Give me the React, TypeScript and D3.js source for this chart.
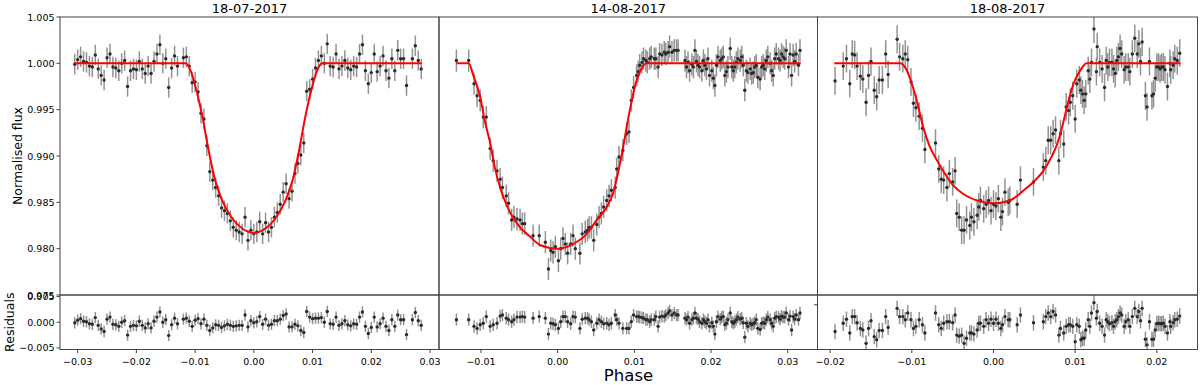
import React from 'react';
import * as d3 from 'd3';

// 18-07-2017
const phase0718 = [
  -0.0305, -0.0300, -0.0295, -0.0290, -0.0285, -0.0280, -0.0275, -0.0270, -0.0265, -0.0260,
  -0.0255, -0.0250, -0.0245, -0.0240, -0.0235, -0.0230, -0.0225, -0.0220, -0.0215, -0.0210,
  -0.0205, -0.0200, -0.0195, -0.0190, -0.0185, -0.0180, -0.0175, -0.0170, -0.0165, -0.0160,
  -0.0155, -0.0150, -0.0145, -0.0140, -0.0135, -0.0130, -0.0120,
  -0.0115, -0.0110, -0.0105, -0.0100, -0.0095, -0.0090, -0.0085, -0.0080, -0.0075, -0.0070,
  -0.0065, -0.0060, -0.0055, -0.0050, -0.0045, -0.0040, -0.0035, -0.0030, -0.0025, -0.0020,
  -0.0015, -0.0010, -0.0005, 0.0000, 0.0005, 0.0010, 0.0015, 0.0020, 0.0025, 0.0030,
  0.0035, 0.0040, 0.0045, 0.0050, 0.0055, 0.0060, 0.0065, 0.0070, 0.0075, 0.0080,
  0.0085, 0.0090, 0.0095, 0.0100, 0.0105, 0.0110, 0.0115,
  0.0120, 0.0125, 0.0130, 0.0135, 0.0140, 0.0145, 0.0150, 0.0155, 0.0160, 0.0165,
  0.0170, 0.0175, 0.0180, 0.0185, 0.0190, 0.0195, 0.0200, 0.0205, 0.0210, 0.0215,
  0.0220, 0.0225, 0.0230, 0.0235, 0.0240, 0.0245, 0.0250, 0.0255, 0.0260,
  0.0270, 0.0275, 0.0280, 0.0285,
];
const flux0718 = [
  0.9999, 1.0004, 1.0007, 1.0002, 1.0001, 0.9997, 0.9996, 1.0009, 0.9994, 0.9987,
  0.9982, 1.0006, 1.0010, 0.9996, 0.9995, 0.9992, 1.0000, 1.0003, 0.9975, 0.9992,
  0.9994, 0.9993, 1.0002, 0.9994, 0.9989, 0.9997, 0.9989, 1.0002, 1.0010, 1.0020,
  1.0000, 1.0005, 0.9974, 0.9995, 1.0008, 0.9997, 1.0006,
  1.0007, 0.9997, 0.9979, 0.9980, 0.9969, 0.9946, 0.9940, 0.9911, 0.9883, 0.9874,
  0.9866, 0.9857, 0.9844, 0.9841, 0.9838, 0.9830, 0.9823, 0.9820, 0.9818, 0.9816,
  0.9834, 0.9809, 0.9820, 0.9816, 0.9818, 0.9829, 0.9816, 0.9828, 0.9818, 0.9823,
  0.9834, 0.9839, 0.9848, 0.9861, 0.9870, 0.9854, 0.9862, 0.9881, 0.9892, 0.9901,
  0.9914, 0.9970, 0.9972, 0.9983, 0.9995, 1.0003, 1.0008,
  1.0000, 1.0021, 0.9997, 0.9996, 1.0010, 0.9994, 0.9997, 1.0003, 0.9995, 0.9993,
  0.9997, 0.9996, 1.0010, 1.0020, 0.9992, 0.9978, 0.9990, 1.0010, 0.9991, 0.9997,
  1.0008, 0.9992, 0.9984, 1.0005, 0.9992, 1.0014, 1.0005, 1.0005, 0.9976,
  1.0005, 1.0019, 1.0003, 0.9994,
];
const resid0718 = [
  -0.0001, 0.0004, 0.0007, 0.0002, 0.0001, -0.0003, -0.0004, 0.0009, -0.0006, -0.0013,
  -0.0018, 0.0006, 0.0010, -0.0004, -0.0005, -0.0008, 0.0000, 0.0003, -0.0025, -0.0008,
  -0.0006, -0.0007, 0.0002, -0.0006, -0.0011, -0.0003, -0.0011, 0.0002, 0.0010, 0.0020,
  0.0000, 0.0005, -0.0026, -0.0005, 0.0008, -0.0003, 0.0006,
  0.0008, 0.0002, -0.0008, 0.0004, 0.0007, -0.0003, 0.0006, -0.0006, -0.0016, -0.0011,
  -0.0005, -0.0006, -0.0010, -0.0007, -0.0004, -0.0006, -0.0008, -0.0007, -0.0006, -0.0006,
  0.0014, -0.0009, 0.0003, -0.0001, 0.0001, 0.0011, -0.0004, 0.0006, -0.0006, -0.0004,
  0.0003, 0.0003, 0.0006, 0.0013, 0.0016, -0.0009, -0.0009, -0.0004, -0.0007, -0.0016,
  -0.0020, 0.0021, 0.0010, 0.0007, 0.0008, 0.0008, 0.0009,
  0.0000, 0.0021, -0.0003, -0.0004, 0.0010, -0.0006, -0.0003, 0.0003, -0.0005, -0.0007,
  -0.0003, -0.0004, 0.0010, 0.0020, -0.0008, -0.0022, -0.0010, 0.0010, -0.0009, -0.0003,
  0.0008, -0.0008, -0.0016, 0.0005, -0.0008, 0.0014, 0.0005, 0.0005, -0.0024,
  0.0005, 0.0019, 0.0003, -0.0006,
];
const err0718 = 0.0011;
const modelPhase0718 = [
  -0.0305, -0.0116, -0.0107, -0.0099, -0.00875, -0.0077, -0.0066, -0.0054, -0.0036, -0.0019, 0,
  0.0019, 0.0036, 0.0054, 0.0066, 0.0077, 0.00875, 0.0099, 0.0107, 0.0116, 0.0286,
];
const modelFlux0718 = [
  1.0, 1.0, 0.9991, 0.9974, 0.9942, 0.9906, 0.9874, 0.9852, 0.9832, 0.98215, 0.9817,
  0.98215, 0.9832, 0.9852, 0.9874, 0.9906, 0.9942, 0.9974, 0.9991, 1.0, 1.0,
];
const xTicks0718 = [-0.03, -0.02, -0.01, 0, 0.01, 0.02, 0.03];

// 14-08-2017
const phase0814 = [
  -0.0132, -0.0116, -0.0109, -0.0105, -0.0101, -0.0097, -0.0093, -0.0088, -0.0084, -0.0079,
  -0.0075, -0.0072, -0.0067, -0.0064, -0.0060, -0.0057, -0.0053, -0.0049, -0.0046, -0.0043,
  -0.0032, -0.0024, -0.0016, -0.0012, -0.0009, -0.0006, -0.0003, 0.0001, 0.0004, 0.0007,
  0.0010, 0.0013, 0.0017, 0.0020, 0.0023, 0.0029, 0.0032, 0.0036, 0.0039, 0.0041,
  0.0044, 0.0047, 0.0051, 0.0054, 0.0057, 0.0060, 0.0064, 0.0067, 0.0070, 0.0075,
  0.0077, 0.0080, 0.0085, 0.0090, 0.0093, 0.0096, 0.0099, 0.0103, 0.0105, 0.0107,
  0.0110, 0.0112, 0.0115, 0.0117, 0.0120, 0.0122, 0.0126, 0.0128, 0.0131, 0.0133,
  0.0136, 0.0139, 0.0141, 0.0144, 0.0146, 0.0149, 0.0152, 0.0155, 0.0157,
  0.0166, 0.0168, 0.0170, 0.0172, 0.0175, 0.0177, 0.0179, 0.0181, 0.0183, 0.0185,
  0.0188, 0.0190, 0.0192, 0.0194, 0.0196, 0.0198, 0.0201, 0.0203, 0.0205, 0.0207,
  0.0209, 0.0212, 0.0214, 0.0216, 0.0218, 0.0220, 0.0222, 0.0225, 0.0227, 0.0229,
  0.0231, 0.0233, 0.0235, 0.0238, 0.0240, 0.0242, 0.0244, 0.0246, 0.0248, 0.0251,
  0.0253, 0.0255, 0.0257, 0.0259, 0.0261, 0.0264, 0.0266, 0.0268, 0.0270, 0.0272,
  0.0274, 0.0277, 0.0279, 0.0281, 0.0283, 0.0285, 0.0288, 0.0290, 0.0292, 0.0294,
  0.0296, 0.0298, 0.0301, 0.0303, 0.0305, 0.0307, 0.0309, 0.0311, 0.0314, 0.0316,
];
const flux0814 = [
  1.0003, 1.0003, 0.9978, 0.9965, 0.9960, 0.9942, 0.9942, 0.9908, 0.9895, 0.9884,
  0.9875, 0.9866, 0.9857, 0.9849, 0.9831, 0.9834, 0.9832, 0.9831, 0.9827, 0.9827,
  0.9814, 0.9814, 0.9807, 0.9778, 0.9798, 0.9796, 0.9802, 0.9787, 0.9800, 0.9811,
  0.9805, 0.9795, 0.9805, 0.9814, 0.9800, 0.9795, 0.9816, 0.9818, 0.9820, 0.9823,
  0.9823, 0.9809, 0.9826, 0.9834, 0.9838, 0.9845, 0.9852, 0.9857, 0.9863, 0.9866,
  0.9886, 0.9899, 0.9906, 0.9924, 0.9926, 0.9960, 0.9974, 0.9987, 0.9991, 0.9998,
  1.0001, 1.0005, 1.0003, 1.0001, 1.0005, 1.0007, 1.0005, 1.0005, 0.9996, 1.0010,
  1.0009, 1.0012, 1.0010, 1.0012, 1.0018, 1.0012, 1.0014, 1.0014, 1.0014,
  1.0003, 0.9996, 1.0001, 0.9992, 0.9999, 0.9996, 1.0014, 1.0002, 0.9998, 0.9996,
  0.9992, 1.0003, 0.9998, 0.9994, 1.0005, 0.9987, 0.9992, 0.9984, 0.9976, 0.9998,
  1.0007, 1.0003, 1.0005, 1.0007, 0.9987, 0.9991, 0.9996, 1.0016, 0.9996, 0.9992,
  0.9996, 1.0001, 1.0005, 1.0003, 1.0007, 0.9998, 0.9971, 0.9992, 0.9990, 0.9994,
  0.9989, 0.9990, 0.9996, 0.9998, 0.9985, 0.9983, 0.9996, 0.9998, 0.9994, 1.0003,
  1.0007, 1.0000, 0.9992, 0.9987, 1.0005, 1.0010, 1.0005, 1.0003, 1.0010, 1.0007,
  1.0005, 1.0014, 0.9996, 1.0010, 0.9987, 1.0009, 1.0002, 1.0010, 0.9998, 1.0014,
];
const resid0814 = [
  0.0005, 0.0005, -0.0008, -0.0012, -0.0005, -0.0002, 0.0011, -0.0008, -0.0005, -0.0002,
  0.0012, 0.0014, 0.0008, 0.0005, 0.0001, 0.0005, 0.0010, 0.0010, 0.0011, 0.0010,
  0.0008, 0.0011, 0.0008, -0.0023, -0.0002, -0.0003, -0.0005, -0.0012, 0.0001, 0.0011,
  0.0011, 0.0001, -0.0003, 0.0011, 0.0010, -0.0012, 0.0006, 0.0008, 0.0008, 0.0005,
  0.0001, -0.0015, -0.0002, 0.0005, 0.0001, -0.0003, -0.0002, -0.0005, -0.0002, 0.0014,
  0.0005, -0.0002, -0.0012, -0.0012, -0.0012, 0.0001, 0.0014, 0.0011, 0.0011, 0.0010,
  0.0009, 0.0008, 0.0005, 0.0005, 0.0001, 0.0005, 0.0005, 0.0011, -0.0008, 0.0010,
  0.0012, 0.0011, 0.0014, 0.0018, 0.0022, 0.0014, 0.0018, 0.0014, 0.0014,
  0.0008, 0.0005, 0.0010, -0.0002, 0.0005, 0.0008, 0.0018, 0.0008, 0.0006, 0.0001,
  -0.0002, 0.0005, 0.0001, -0.0002, 0.0005, -0.0008, -0.0001, -0.0008, -0.0023, 0.0001,
  0.0011, 0.0006, 0.0010, 0.0011, -0.0005, -0.0002, 0.0005, 0.0018, 0.0001, -0.0002,
  0.0001, 0.0005, 0.0010, 0.0006, 0.0008, -0.0001, -0.0029, -0.0002, -0.0008, -0.0002,
  -0.0005, -0.0003, -0.0001, 0.0005, -0.0012, -0.0014, -0.0002, -0.0001, -0.0002, 0.0005,
  0.0010, 0.0005, -0.0002, -0.0008, 0.0008, 0.0011, 0.0010, 0.0006, 0.0012, 0.0010,
  0.0010, 0.0018, 0.0005, 0.0012, -0.0015, 0.0011, 0.0006, 0.0014, 0.0005, 0.0018,
];
const err0814 = 0.0012;
const modelPhase0814 = [
  -0.0132, -0.0116, -0.0110, -0.0101, -0.0095, -0.0088, -0.0082, -0.0075, -0.0069, -0.0060,
  -0.0049, -0.0036, -0.0023, 0, 0.0020, 0.0038, 0.0051, 0.0064, 0.0072, 0.0083,
  0.0094, 0.0103, 0.0109, 0.0116, 0.0317,
];
const modelFlux0814 = [
  1.0, 1.0, 0.9987, 0.9964, 0.9938, 0.9914, 0.9888, 0.9866, 0.9852, 0.9836,
  0.9823, 0.9813, 0.9804, 0.9800, 0.9805, 0.9816, 0.9831, 0.9845, 0.9859, 0.9899,
  0.9949, 0.9982, 0.9994, 1.0, 1.0,
];
const xTicks0814 = [-0.01, 0, 0.01, 0.02, 0.03];

// 18-08-2017
const phase0818 = [
  -0.0194, -0.0184, -0.0180, -0.0176, -0.0173, -0.0170, -0.0167, -0.0163, -0.0160, -0.0156,
  -0.0153, -0.0150, -0.0146, -0.0143, -0.0140, -0.0136, -0.0132, -0.0129, -0.0118, -0.0115,
  -0.0111, -0.0108, -0.0105, -0.0101, -0.0098, -0.0095, -0.0091, -0.0087, -0.0084, -0.0071,
  -0.0067, -0.0064, -0.0061, -0.0057, -0.0054, -0.0050, -0.0047, -0.0045, -0.0042, -0.0039,
  -0.0036, -0.0033, -0.0029, -0.0027, -0.0024, -0.0020, -0.0018, -0.0016, -0.0012, -0.0009,
  -0.0006, -0.0003, 0.0000, 0.0003, 0.0006, 0.0009, 0.0011, 0.0014, 0.0018, 0.0020,
  0.0029, 0.0033, 0.0049, 0.0061, 0.0064, 0.0067, 0.0070, 0.0073, 0.0076, 0.0080,
  0.0082, 0.0086, 0.0089, 0.0092, 0.0094, 0.0097, 0.0100, 0.0102, 0.0105, 0.0107,
  0.0109, 0.0111, 0.0113, 0.0116, 0.0118, 0.0120, 0.0123, 0.0126, 0.0127, 0.0130,
  0.0133, 0.0136, 0.0138, 0.0140, 0.0142, 0.0145, 0.0147, 0.0149, 0.0151, 0.0153,
  0.0155, 0.0157, 0.0160, 0.0162, 0.0165, 0.0167, 0.0170, 0.0173, 0.0176, 0.0178,
  0.0180, 0.0182, 0.0186, 0.0188, 0.0191, 0.0194, 0.0196, 0.0198, 0.0200, 0.0202,
  0.0204, 0.0206, 0.0208, 0.0210, 0.0213, 0.0216, 0.0217, 0.0220, 0.0222, 0.0225,
  0.0228,
];
const flux0818 = [
  0.9981, 0.9997, 1.0005, 0.9978, 1.0010, 1.0009, 0.9997, 0.9986, 0.9983, 0.9958,
  0.9987, 1.0002, 0.9971, 0.9964, 0.9982, 0.9982, 1.0010, 0.9988, 1.0026, 1.0007,
  1.0005, 1.0010, 1.0004, 0.9980, 0.9957, 0.9952, 0.9943, 0.9930, 0.9907, 0.9914,
  0.9886, 0.9875, 0.9874, 0.9866, 0.9881, 0.9872, 0.9884, 0.9838, 0.9834, 0.9820,
  0.9820, 0.9831, 0.9825, 0.9834, 0.9829, 0.9836, 0.9845, 0.9852, 0.9843, 0.9848,
  0.9852, 0.9841, 0.9848, 0.9846, 0.9854, 0.9834, 0.9840, 0.9861, 0.9850, 0.9852,
  0.9848, 0.9874, 0.9872, 0.9888, 0.9895, 0.9917, 0.9917, 0.9924, 0.9928, 0.9895,
  0.9924, 0.9913, 0.9953, 0.9949, 0.9958, 0.9965, 0.9940, 0.9978, 0.9982, 0.9971,
  0.9967, 0.9960, 0.9967, 0.9992, 0.9983, 1.0001, 1.0037, 0.9991, 1.0018, 1.0001,
  0.9994, 0.9974, 1.0003, 0.9996, 1.0001, 1.0001, 0.9994, 0.9989, 1.0003, 1.0007,
  1.0016, 1.0010, 0.9993, 0.9996, 0.9996, 0.9991, 1.0010, 1.0027, 1.0010, 1.0021,
  1.0002, 1.0023, 0.9965, 0.9953, 1.0002, 0.9965, 0.9967, 0.9984, 0.9996, 0.9996,
  0.9994, 0.9996, 0.9996, 0.9993, 0.9975, 1.0000, 0.9993, 0.9998, 1.0005, 1.0003,
  1.0011,
];
const resid0818 = [
  -0.0018, -0.0002, 0.0006, -0.0021, 0.0011, 0.0011, -0.0001, -0.0012, -0.0015, -0.0041,
  -0.0012, 0.0003, -0.0028, -0.0034, -0.0016, -0.0016, 0.0011, -0.0010, 0.0027, 0.0011,
  0.0011, 0.0005, 0.0018, 0.0005, -0.0012, -0.0008, 0.0005, -0.0005, -0.0021, 0.0018,
  -0.0005, -0.0012, -0.0002, 0.0001, 0.0001, -0.0001, 0.0014, -0.0025, -0.0027, -0.0025,
  -0.0041, -0.0031, -0.0021, -0.0021, -0.0023, -0.0015, -0.0002, -0.0002, -0.0008, 0.0005,
  -0.0002, 0.0006, -0.0002, 0.0006, -0.0002, -0.0012, -0.0005, 0.0011, 0.0005, 0.0005,
  -0.0005, 0.0014, -0.0001, 0.0001, 0.0011, 0.0018, 0.0011, 0.0021, 0.0014, -0.0025,
  -0.0012, -0.0021, -0.0008, -0.0005, -0.0005, -0.0008, -0.0038, -0.0005, -0.0008, -0.0034,
  -0.0031, -0.0031, -0.0015, 0.0005, -0.0008, 0.0018, 0.0038, 0.0008, 0.0021, -0.0002,
  -0.0008, -0.0025, 0.0005, 0.0001, -0.0003, -0.0001, -0.0008, 0.0001, 0.0005, 0.0011,
  0.0018, 0.0014, -0.0008, 0.0001, 0.0005, -0.0008, 0.0011, 0.0027, 0.0011, 0.0021,
  0.0003, 0.0027, -0.0033, -0.0044, 0.0001, -0.0033, -0.0033, -0.0015, -0.0003, -0.0002,
  -0.0003, -0.0003, -0.0002, -0.0008, -0.0021, 0.0001, -0.0008, -0.0001, 0.0005, 0.0006,
  0.0012,
];
const err0818 = 0.0015;
const modelPhase0818 = [
  -0.0195, -0.0114, -0.0106, -0.0100, -0.0094, -0.0086, -0.0078, -0.0069, -0.0061, -0.0049,
  -0.0037, -0.0020, 0, 0.0020, 0.0037, 0.0049, 0.0061, 0.0071, 0.0078, 0.0084,
  0.0090, 0.0098, 0.0106, 0.0114, 0.0229,
];
const modelFlux0818 = [
  1.0, 1.0, 0.9992, 0.9978, 0.9960, 0.9931, 0.9910, 0.9895, 0.9883, 0.9868,
  0.9859, 0.9852, 0.9849, 0.9852, 0.9863, 0.9872, 0.9884, 0.9899, 0.9913, 0.9931,
  0.9953, 0.9978, 0.9992, 1.0, 1.0,
];
const xTicks0818 = [-0.02, -0.01, 0, 0.01, 0.02];

const fluxTicks = [1.005, 1.0, 0.995, 0.99, 0.985, 0.98, 0.975];
const residTicks = [0.005, 0, -0.005];
const titles = ['18-07-2017', '14-08-2017', '18-08-2017'];

const W = 1200;
const H = 385;
const TOP = 17;
const MID = 295;
const BOT = 349.5;
const FONT = "'DejaVu Sans', sans-serif";

const panels = [
  { phase: phase0718, flux: flux0718, resid: resid0718, err: err0718, mp: modelPhase0718, mf: modelFlux0718, ticks: xTicks0718, domain: [-0.03301, 0.03153], left: 60, right: 439 },
  { phase: phase0814, flux: flux0814, resid: resid0814, err: err0814, mp: modelPhase0814, mf: modelFlux0814, ticks: xTicks0814, domain: [-0.01547, 0.03388], left: 439, right: 817.5 },
  { phase: phase0818, flux: flux0818, resid: resid0818, err: err0818, mp: modelPhase0818, mf: modelFlux0818, ticks: xTicks0818, domain: [-0.02155, 0.02498], left: 817.5, right: 1197.5 },
];

const yMain = d3.scaleLinear().domain([0.975, 1.005]).range([MID, TOP]);
const yRes = d3.scaleLinear().domain([-0.0053, 0.0053]).range([BOT, MID]);
const fmtY = d3.format('.3f');
const fmtX = d3.format('.2f');

// error bars first, then the dots on top
const Points = ({ x, y, phase, vals, err, clip }) => (
  <g clipPath={`url(#${clip})`}>
    {phase.map((p, i) => (
      <line key={'e' + i} x1={x(p)} x2={x(p)} y1={y(vals[i] - err)} y2={y(vals[i] + err)}
        stroke="#808080" strokeOpacity={0.85} strokeWidth={1.5} />
    ))}
    {phase.map((p, i) => (
      <circle key={'d' + i} cx={x(p)} cy={y(vals[i])} r={1.7} fill="#2b2b2b" />
    ))}
  </g>
);

const App = () => {
  return (
    <svg width={W} height={H} style={{ position: 'absolute', left: 0, top: 0, fontFamily: FONT }}>
      <rect width={W} height={H} fill="#fff" />
      {panels.map((pn, k) => {
        const x = d3.scaleLinear().domain(pn.domain).range([pn.left, pn.right]);
        const model = d3.line<number>()
          .x((p) => x(p))
          .y((_, i) => yMain(pn.mf[i]))
          .curve(d3.curveMonotoneX);
        return (
          <g key={k}>
            <defs>
              <clipPath id={`main${k}`}>
                <rect x={pn.left} y={TOP} width={pn.right - pn.left} height={MID - TOP} />
              </clipPath>
              <clipPath id={`res${k}`}>
                <rect x={pn.left} y={MID} width={pn.right - pn.left} height={BOT - MID} />
              </clipPath>
            </defs>
            <Points x={x} y={yMain} phase={pn.phase} vals={pn.flux} err={pn.err} clip={`main${k}`} />
            <path d={model(pn.mp) || ''} fill="none" stroke="#ff0000" strokeWidth={2} clipPath={`url(#main${k})`} />
            <Points x={x} y={yRes} phase={pn.phase} vals={pn.resid} err={pn.err} clip={`res${k}`} />

            <rect x={pn.left} y={TOP} width={pn.right - pn.left} height={MID - TOP} fill="none" stroke="#444" strokeWidth={1} />
            <rect x={pn.left} y={MID} width={pn.right - pn.left} height={BOT - MID} fill="none" stroke="#444" strokeWidth={1} />

            <text x={(pn.left + pn.right) / 2} y={12.5} textAnchor="middle" fontSize={13} fill="#000">{titles[k]}</text>

            {pn.ticks.map((t) => (
              <g key={t} transform={`translate(${x(t)},${BOT})`}>
                <line y2={3.5} stroke="#444" />
                <text y={11.5} textAnchor="middle" dominantBaseline="central" fontSize={9.5} fill="#000">{fmtX(t)}</text>
              </g>
            ))}

            {k === 0 && fluxTicks.map((t) => (
              <g key={'f' + t} transform={`translate(${pn.left},${yMain(t)})`}>
                <line x2={-3.5} stroke="#444" />
                <text x={-5.5} textAnchor="end" dominantBaseline="central" fontSize={9.5} fill="#000">{fmtY(t)}</text>
              </g>
            ))}
            {k === 0 && residTicks.map((t) => (
              <g key={'r' + t} transform={`translate(${pn.left},${yRes(t)})`}>
                <line x2={-3.5} stroke="#444" />
                <text x={-5.5} textAnchor="end" dominantBaseline="central" fontSize={9.5} fill="#000">{fmtY(t)}</text>
              </g>
            ))}
            {k === 2 && (
              <line x1={pn.left - 3.5} x2={pn.left} y1={yRes(0.0034)} y2={yRes(0.0034)} stroke="#444" />
            )}
          </g>
        );
      })}

      <text transform={`translate(17,${(TOP + MID) / 2}) rotate(-90)`} textAnchor="middle" dominantBaseline="central" fontSize={12.5} fill="#000">Normalised flux</text>
      <text transform={`translate(9,${(MID + BOT) / 2}) rotate(-90)`} textAnchor="middle" dominantBaseline="central" fontSize={12.5} fill="#000">Residuals</text>
      <text x={628.5} y={381} textAnchor="middle" fontSize={16.5} fill="#000">Phase</text>
    </svg>
  );
};

export default App;
